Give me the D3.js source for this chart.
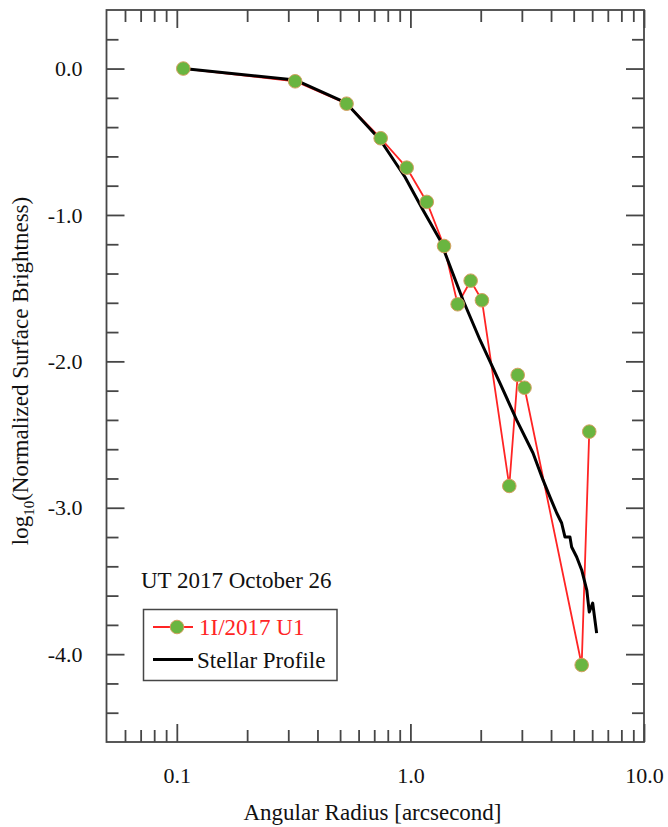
<!DOCTYPE html>
<html>
<head>
<meta charset="utf-8">
<script src="https://cdn.jsdelivr.net/npm/d3@7"></script>
<style>
  html, body { margin: 0; padding: 0; background: #fff; }
  svg { display: block; }
  text { font-family: "Liberation Serif", "Times New Roman", serif; fill: #111; }
</style>
</head>
<body>
<script>
// ---- Data ----
const cometRadius = [0.1066, 0.321, 0.533, 0.746, 0.964, 1.175, 1.393, 1.593, 1.811, 2.024, 2.65, 2.88, 3.08, 5.41, 5.83];
const cometLogSB  = [0.0, -0.087, -0.240, -0.476, -0.677, -0.911, -1.212, -1.610, -1.449, -1.583, -2.851, -2.093, -2.180, -4.074, -2.480];

const starRadius = [0.1066, 0.321, 0.531, 0.743, 0.948, 1.132, 1.339, 1.679, 1.986, 2.418, 2.851, 3.348, 3.695, 3.96, 4.23, 4.44, 4.59, 4.82, 4.90, 5.15, 5.41, 5.69, 5.83, 6.03, 6.27];
const starLogSB  = [0.0, -0.078, -0.235, -0.488, -0.741, -0.966, -1.171, -1.581, -1.854, -2.148, -2.401, -2.626, -2.810, -2.927, -3.036, -3.104, -3.200, -3.200, -3.268, -3.336, -3.425, -3.562, -3.712, -3.651, -3.856];

const xMajorTicks = [0.1, 1, 10];
const xMajorLabels = ["0.1", "1.0", "10.0"];
const xMinorTicks = [0.06, 0.07, 0.08, 0.09, 0.2, 0.3, 0.4, 0.5, 0.6, 0.7, 0.8, 0.9, 2, 3, 4, 5, 6, 7, 8, 9];
const yMajorTicks = [0, -1, -2, -3, -4];
const yMajorLabels = ["0.0", "-1.0", "-2.0", "-3.0", "-4.0"];
const yMinorTicks = [0.2, -0.2, -0.4, -0.6, -0.8, -1.2, -1.4, -1.6, -1.8, -2.2, -2.4, -2.6, -2.8, -3.2, -3.4, -3.6, -3.8, -4.2, -4.4];

const dateLabel = "UT 2017 October 26";
const seriesNames = ["1I/2017 U1", "Stellar Profile"];

// ---- Layout ----
const W = 668, H = 827;
const L = 106.5, R = 644, T = 10, B = 742;
const frameColor = "#464646";
const red = "#ff2424", green = "#6ab540", markerStroke = "#d4a060";

const svg = d3.select("body").append("svg").attr("width", W).attr("height", H);

const x = d3.scaleLog().domain([0.05, 10]).range([L, R]);
const y = d3.scaleLinear().domain([-4.6, 0.4]).range([B, T]);

function styleAxis(g) {
  g.select(".domain").remove();
  g.selectAll(".tick line").attr("stroke", frameColor).attr("stroke-width", 1.8);
  g.selectAll(".tick text").attr("font-size", 22).attr("fill", "#111")
    .attr("font-family", "Liberation Serif, Times New Roman, serif");
}

// bottom
svg.append("g").attr("transform", `translate(0,${B})`)
  .call(d3.axisBottom(x).tickValues(xMinorTicks).tickSizeInner(-12).tickSizeOuter(0).tickFormat(""))
  .call(styleAxis);
svg.append("g").attr("transform", `translate(0,${B})`)
  .call(d3.axisBottom(x).tickValues(xMajorTicks).tickSizeInner(-18).tickSizeOuter(0).tickPadding(25)
    .tickFormat((d, i) => xMajorLabels[i]))
  .call(styleAxis);
// top
svg.append("g").attr("transform", `translate(0,${T})`)
  .call(d3.axisTop(x).tickValues(xMinorTicks).tickSizeInner(-12).tickSizeOuter(0).tickFormat(""))
  .call(styleAxis);
svg.append("g").attr("transform", `translate(0,${T})`)
  .call(d3.axisTop(x).tickValues(xMajorTicks).tickSizeInner(-18).tickSizeOuter(0).tickFormat(""))
  .call(styleAxis);
// left
svg.append("g").attr("transform", `translate(${L},0)`)
  .call(d3.axisLeft(y).tickValues(yMinorTicks).tickSizeInner(-12).tickSizeOuter(0).tickFormat(""))
  .call(styleAxis);
svg.append("g").attr("transform", `translate(${L},0)`)
  .call(d3.axisLeft(y).tickValues(yMajorTicks).tickSizeInner(-18).tickSizeOuter(0).tickPadding(24)
    .tickFormat((d, i) => yMajorLabels[i]))
  .call(styleAxis);
// right
svg.append("g").attr("transform", `translate(${R},0)`)
  .call(d3.axisRight(y).tickValues(yMinorTicks).tickSizeInner(-12).tickSizeOuter(0).tickFormat(""))
  .call(styleAxis);
svg.append("g").attr("transform", `translate(${R},0)`)
  .call(d3.axisRight(y).tickValues(yMajorTicks).tickSizeInner(-18).tickSizeOuter(0).tickFormat(""))
  .call(styleAxis);

// frame
svg.append("rect").attr("x", L).attr("y", T).attr("width", R - L).attr("height", B - T)
  .attr("fill", "none").attr("stroke", frameColor).attr("stroke-width", 1.8);

// lines
const cometData = cometRadius.map((r, i) => ({ r, v: cometLogSB[i] }));
const starData = starRadius.map((r, i) => ({ r, v: starLogSB[i] }));
const line = d3.line().x(d => x(d.r)).y(d => y(d.v));

svg.append("path").datum(cometData).attr("d", line)
  .attr("fill", "none").attr("stroke", red).attr("stroke-width", 1.8).attr("stroke-linejoin", "round");
svg.append("path").datum(starData).attr("d", line)
  .attr("fill", "none").attr("stroke", "#000").attr("stroke-width", 3).attr("stroke-linejoin", "round");

svg.append("g").selectAll("circle").data(cometData).join("circle")
  .attr("cx", d => x(d.r)).attr("cy", d => y(d.v)).attr("r", 6.8)
  .attr("fill", green).attr("stroke", markerStroke).attr("stroke-width", 1);

// axis titles
svg.append("text").attr("x", 372.5).attr("y", 820).attr("text-anchor", "middle")
  .attr("font-size", 23).text("Angular Radius [arcsecond]");

const yt = svg.append("text").attr("transform", "translate(28,371) rotate(-90)")
  .attr("text-anchor", "middle").attr("font-size", 23);
yt.append("tspan").text("log");
yt.append("tspan").attr("font-size", 15).attr("dy", 6).text("10");
yt.append("tspan").attr("dy", -6).text("(Normalized Surface Brightness)");

// date label
svg.append("text").attr("x", 141).attr("y", 588).attr("font-size", 23).text(dateLabel);

// legend
svg.append("rect").attr("x", 143.5).attr("y", 609.5).attr("width", 193.5).attr("height", 71)
  .attr("fill", "none").attr("stroke", frameColor).attr("stroke-width", 1.5);
svg.append("line").attr("x1", 153).attr("x2", 193).attr("y1", 627).attr("y2", 627)
  .attr("stroke", red).attr("stroke-width", 1.8);
svg.append("circle").attr("cx", 177).attr("cy", 627).attr("r", 6.8)
  .attr("fill", green).attr("stroke", markerStroke).attr("stroke-width", 1);
svg.append("text").attr("x", 199).attr("y", 635).attr("font-size", 23)
  .style("fill", red).text(seriesNames[0]);
svg.append("line").attr("x1", 153).attr("x2", 193).attr("y1", 659.5).attr("y2", 659.5)
  .attr("stroke", "#000").attr("stroke-width", 3);
svg.append("text").attr("x", 197).attr("y", 668).attr("font-size", 23).text(seriesNames[1]);
</script>
</body>
</html>
